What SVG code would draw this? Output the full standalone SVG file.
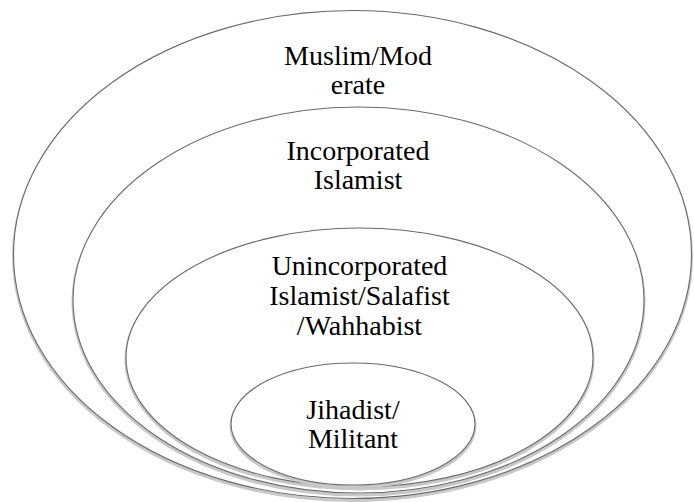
<svg xmlns="http://www.w3.org/2000/svg" width="694" height="502" viewBox="0 0 694 502">
  <style>
    .ring { fill: #ffffff; stroke: #6a6a6a; stroke-width: 1.1; }
    .shade { fill: none; stroke: #c8c8c8; stroke-width: 3; }
    .lbl { font-family: "Liberation Serif", "Times New Roman", serif; font-size: 28px; fill: #000; text-anchor: middle; }
  </style>
  <rect width="694" height="502" fill="#ffffff"/>
  <g id="muslim">
    <ellipse class="shade" cx="352.5" cy="256.5" rx="339" ry="244"/>
    <ellipse class="ring" cx="352.5" cy="254.5" rx="339" ry="244"/>
    <text class="lbl" x="358" y="65">Muslim/Mod</text>
    <text class="lbl" x="358" y="94">erate</text>
  </g>
  <g id="incorporated">
    <ellipse class="shade" cx="358.5" cy="302" rx="285.5" ry="193"/>
    <ellipse class="ring" cx="358.5" cy="300" rx="285.5" ry="193"/>
    <text class="lbl" x="358" y="160">Incorporated</text>
    <text class="lbl" x="358" y="189">Islamist</text>
  </g>
  <g id="unincorporated">
    <ellipse class="shade" cx="359.5" cy="359.5" rx="233.5" ry="129.5"/>
    <ellipse class="ring" cx="359.5" cy="357.5" rx="233.5" ry="129.5"/>
    <text class="lbl" x="359.5" y="275">Unincorporated</text>
    <text class="lbl" x="359.5" y="305">Islamist/Salafist</text>
    <text class="lbl" x="359.5" y="335">/Wahhabist</text>
  </g>
  <g id="jihadist">
    <ellipse class="shade" cx="353" cy="426" rx="122" ry="61"/>
    <ellipse class="ring" cx="353" cy="424" rx="122" ry="61"/>
    <text class="lbl" x="353" y="419">Jihadist/</text>
    <text class="lbl" x="353" y="448">Militant</text>
  </g>
  <g id="connectors"></g>
</svg>
